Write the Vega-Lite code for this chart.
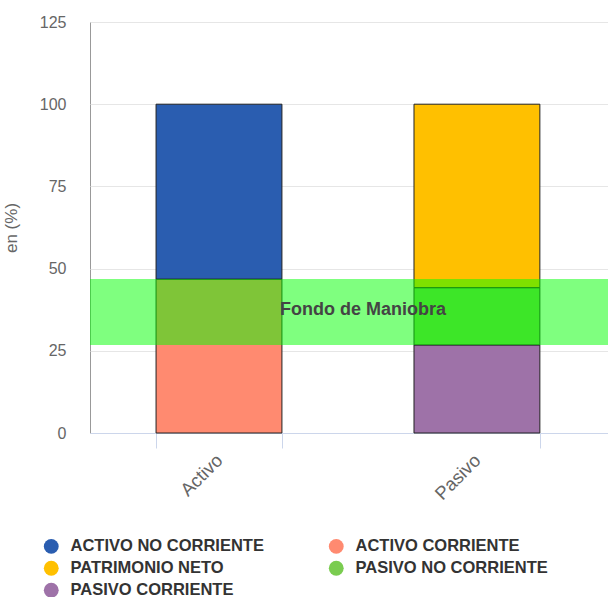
{
  "$schema": "https://vega.github.io/schema/vega-lite/v6.json",
  "width": 520,
  "height": 411,
  "autosize": {"type": "none"},
  "padding": {"left": 90, "top": 22, "right": 0, "bottom": 164},
  "config": {
    "font": "Liberation Sans",
    "view": {"stroke": "#999999", "strokeWidth": 1}
  },
  "datasets": {
    "barras": [
      {"grupo": "Activo", "partida": "ACTIVO CORRIENTE", "valor": 46.8, "orden": 1},
      {"grupo": "Activo", "partida": "ACTIVO NO CORRIENTE", "valor": 53.2, "orden": 2},
      {"grupo": "Pasivo", "partida": "PASIVO CORRIENTE", "valor": 26.8, "orden": 1},
      {"grupo": "Pasivo", "partida": "PASIVO NO CORRIENTE", "valor": 17.4, "orden": 2},
      {"grupo": "Pasivo", "partida": "PATRIMONIO NETO", "valor": 55.8, "orden": 3}
    ],
    "fondo": [
      {"desde": 26.8, "hasta": 46.8, "centro": 36.8, "etiqueta": "Fondo de Maniobra"}
    ]
  },
  "layer": [
    {
      "data": {"name": "barras"},
      "mark": {"type": "bar", "stroke": "#222222", "strokeWidth": 1},
      "encoding": {
        "x": {
          "field": "grupo",
          "type": "nominal",
          "scale": {"paddingInner": 0.512, "paddingOuter": 0.264, "align": 0.485},
          "axis": {
            "title": null,
            "labelAngle": -45,
            "labelAlign": "right",
            "labelBaseline": "middle",
            "labelFontSize": 18.5,
            "labelColor": "#666666",
            "labelPadding": 9,
            "tickBand": "extent",
            "tickSize": 15,
            "tickColor": "#ccd6eb",
            "domainColor": "#ccd6eb",
            "grid": false
          }
        },
        "y": {
          "field": "valor",
          "type": "quantitative",
          "stack": "zero",
          "scale": {"domain": [0, 125], "nice": false},
          "axis": {
            "title": "en (%)",
            "titleFontSize": 17,
            "titleFontWeight": "normal",
            "titleColor": "#666666",
            "titlePadding": 19,
            "values": [0, 25, 50, 75, 100, 125],
            "labelFontSize": 16,
            "labelColor": "#666666",
            "labelPadding": 24,
            "ticks": false,
            "domain": false,
            "grid": true,
            "gridColor": "#e6e6e6"
          }
        },
        "color": {
          "field": "partida",
          "type": "nominal",
          "scale": {
            "domain": ["ACTIVO NO CORRIENTE", "PATRIMONIO NETO", "PASIVO CORRIENTE", "ACTIVO CORRIENTE", "PASIVO NO CORRIENTE"],
            "range": ["#2a5db0", "#ffc000", "#9e72a8", "#ff8a70", "#7acc50"]
          },
          "legend": {
            "orient": "none",
            "legendX": -47,
            "legendY": 516,
            "title": null,
            "columns": 2,
            "symbolType": "circle",
            "symbolSize": 220,
            "symbolStrokeWidth": 0,
            "symbolOpacity": 1,
            "labelFontSize": 16.5,
            "labelFontWeight": "bold",
            "labelColor": "#333333",
            "labelLimit": 0,
            "labelOffset": 11,
            "columnPadding": 64,
            "rowPadding": 5
          }
        },
        "order": {"field": "orden", "type": "quantitative"}
      }
    },
    {
      "data": {"name": "fondo"},
      "mark": {"type": "rect", "color": "#00ff00", "opacity": 0.5},
      "encoding": {
        "y": {"field": "desde", "type": "quantitative"},
        "y2": {"field": "hasta"}
      }
    },
    {
      "data": {"name": "fondo"},
      "mark": {"type": "text", "fontWeight": "bold", "fontSize": 18, "color": "#444444", "dx": 13, "dy": -2},
      "encoding": {
        "y": {"field": "centro", "type": "quantitative"},
        "text": {"field": "etiqueta"}
      }
    }
  ]
}
